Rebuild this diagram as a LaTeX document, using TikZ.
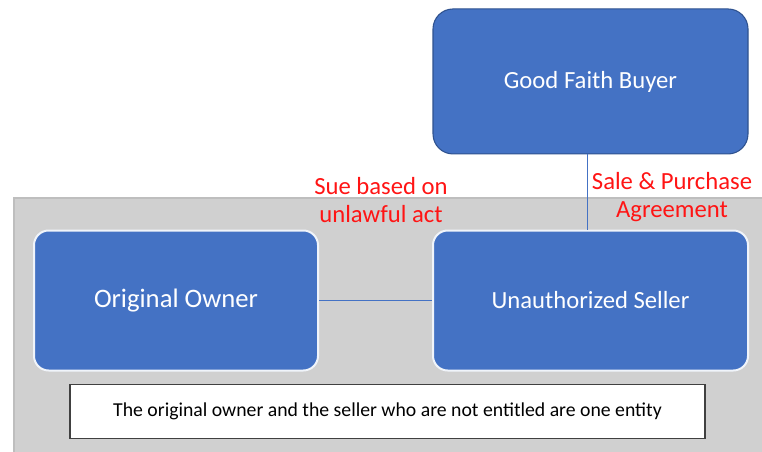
\documentclass[tikz,border=0pt]{standalone}
\usepackage{fontspec}
\setmainfont{Carlito}
\usetikzlibrary{positioning}
\definecolor{my_blue}{RGB}{68, 114, 196}
\definecolor{my_darkblue}{RGB}{47, 82, 143}
\definecolor{my_gray}{RGB}{208, 208, 208}
\definecolor{my_border}{RGB}{190, 190, 190}
\definecolor{my_red}{RGB}{255, 20, 20}
\tikzset {
  party/.style = {draw=white!92!my_blue, line width=1.5pt, fill=my_blue, rounded corners=11pt, text=white, font=\fontsize{18.5}{22}\selectfont, minimum height=105pt, inner sep=0pt},
  buyerbox/.style = {party, draw=my_darkblue, line width=0.8pt, rounded corners=15pt, minimum height=108.75pt},
  notebox/.style = {draw=black!75, line width=1pt, fill=white, minimum width=476.25pt, minimum height=40.5pt, font=\fontsize{14.8}{17}\selectfont},
  redlabel/.style = {text=my_red, align=center, font=\fontsize{18.5}{21.5}\selectfont},
  link/.style = {draw=my_blue, line width=1pt}
}

\begin{document}
\begin{tikzpicture}[x=0.75pt, y=-0.75pt]

    \useasboundingbox (0,0) rectangle (762,452);
    \draw[fill=my_gray, draw=my_border, line width=0.8pt] (14,198) rectangle (763,453);

    \node[party, minimum width=236.25pt, name=seller] (seller) at (590.5,300.5) {Unauthorized Seller};
    \node[buyerbox, minimum width=236.25pt, name=buyer, above=56.25pt of seller] (buyer) {Good Faith Buyer};
    \node[party, minimum width=213pt, font=\fontsize{20}{24}\selectfont, name=owner, left=84.75pt of seller] (owner) {Original Owner};
    \node[notebox, name=note] (note) at (387.5,411.5) {\raisebox{2pt}{The original owner and the seller who are not entitled are one entity}};

    \node[redlabel, name=sue] (sue) at (381,200) {Sue based on\\unlawful act};
    \node[redlabel, name=sale] (sale) at (672,197) {Sale \& Purchase\\Agreement};

    \draw[link] ([xshift=-2.5pt]buyer.south) -- ([xshift=-2.5pt]seller.north);
    \draw[link] (owner.east) -- (seller.west);

  \end{tikzpicture}
\end{document}
